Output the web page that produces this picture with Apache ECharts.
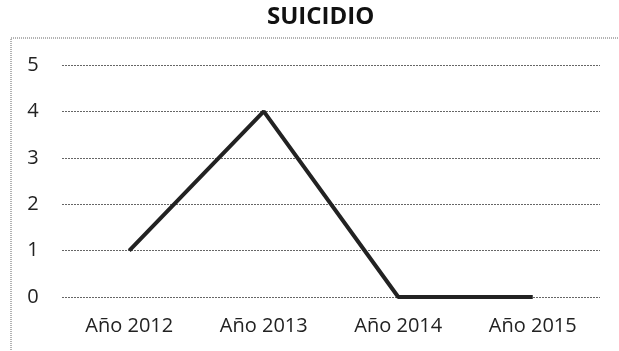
<!DOCTYPE html>
<html>
<head>
<meta charset="utf-8">
<script src="https://cdn.jsdelivr.net/npm/echarts@6/dist/echarts.min.js"></script>
<style>
  html, body { margin: 0; padding: 0; background: #fff; }
  #chart { width: 619px; height: 351px; }
</style>
</head>
<body>
<div id="chart"></div>
<script>
// Cases per year
const years = ['Año 2012', 'Año 2013', 'Año 2014', 'Año 2015'];
const casos = [1, 4, 0, 0];
const yTicks = [0, 1, 2, 3, 4, 5];

const chart = echarts.init(document.getElementById('chart'));
chart.setOption({
  backgroundColor: '#ffffff',
  animation: false,
  title: {
    text: 'SUICIDIO',
    left: 262,
    top: 0,
    textStyle: { fontFamily: 'Open Sans', fontWeight: 'bold', fontSize: 24, color: '#111' }
  },
  graphic: [{
    type: 'rect',
    shape: { x: 11, y: 38, width: 640, height: 340 },
    style: { fill: 'none', stroke: '#666', lineWidth: 1, lineDash: [1, 1] },
    silent: true
  }],
  grid: { left: 62, right: 19, top: 65, bottom: 54 },
  xAxis: {
    type: 'category',
    data: years,
    boundaryGap: true,
    axisLine: { show: false },
    axisTick: { show: false },
    axisLabel: { fontFamily: 'Open Sans', fontSize: 20, color: '#222', margin: 19 }
  },
  yAxis: {
    type: 'value',
    min: yTicks[0],
    max: yTicks[yTicks.length - 1],
    interval: 1,
    axisLine: { show: false },
    axisTick: { show: false },
    axisLabel: { fontFamily: 'Open Sans', fontSize: 20, color: '#222', margin: 29, align: 'center',
      formatter: v => String(v) },
    splitLine: { lineStyle: { color: '#666', width: 1, type: [2, 1] } }
  },
  series: [{
    type: 'line',
    data: casos,
    symbol: 'none',
    lineStyle: { color: '#222', width: 4 }
  }]
});
</script>
</body>
</html>
